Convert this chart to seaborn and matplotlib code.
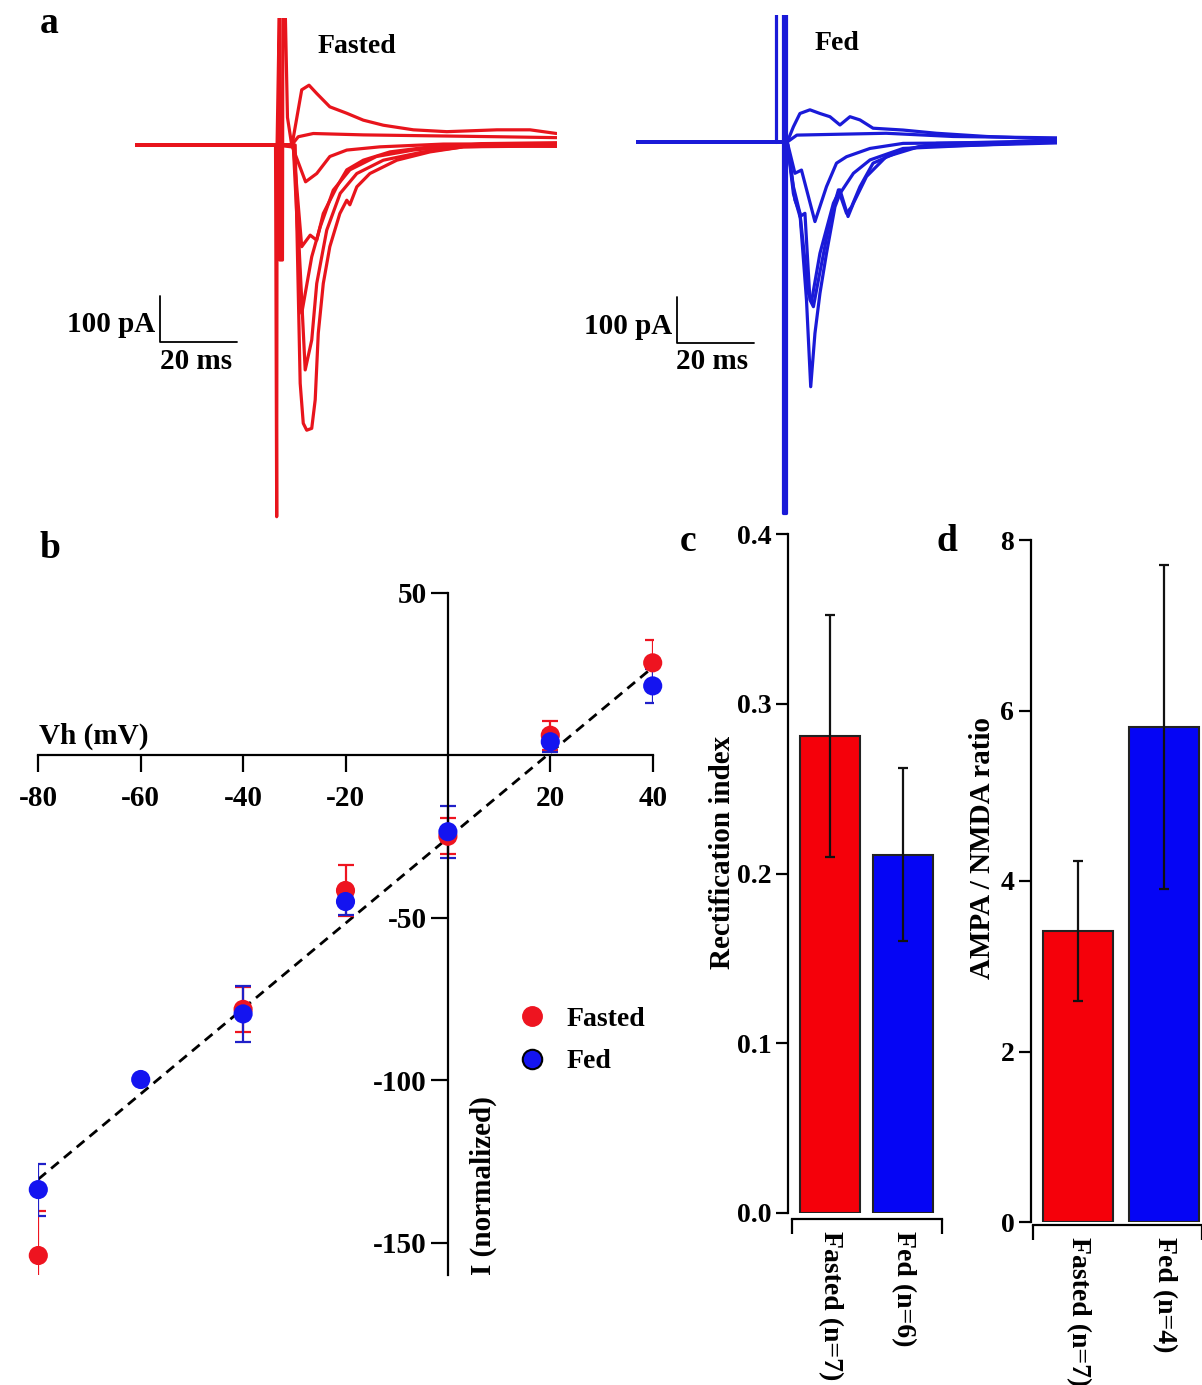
import matplotlib
matplotlib.use("Agg")
import matplotlib.pyplot as plt
from matplotlib.lines import Line2D
import pandas as pd
import seaborn as sns

# ------------------------------------------------------------------ data
# Panel a: recorded traces, time (ms) vs current (pA)
fa_art_t = [36.5, 36.8, 36.9, 37.5, 37.6, 38.3, 38.4, 39.0, 39.6, 40.7]
fa_art_i = [0, -808, 0, 300, -250, -250, 300, 300, 60, 0]
fa1_t = [0, 36.5, 40.7, 43.3, 45.2, 47.2, 50.6, 55.0, 59.3, 64.5, 72.3, 81.0, 94.0, 102.6, 109.5]
fa1_i = [0, 0, -4, 120, 130, 112, 83, 69, 54, 43, 33, 29, 33, 33, 25]
fa2_t = [0, 36.5, 40.7, 42.4, 46.3, 59.3, 76.6, 94.0, 109.5]
fa2_i = [0, 0, 0, 18, 25, 22, 20, 18, 16]
fa3_t = [0, 36.5, 40.7, 44.3, 47.2, 50.6, 55.0, 63.6, 80.0, 109.5]
fa3_i = [0, 0, 0, -80, -62, -25, -11, -4, 2, 3]
fa4_t = [0, 36.5, 41.1, 43.3, 45.5, 47.2, 48.9, 52.4, 55.0, 59.3, 66.2, 76.6, 90.0, 109.5]
fa4_i = [0, 0, 0, -221, -196, -207, -149, -91, -54, -33, -15, -4, -2, -3]
fa5_t = [0, 36.5, 41.1, 43.3, 45.9, 48.1, 51.5, 55.8, 62.7, 72.3, 90.0, 109.5]
fa5_i = [0, 0, 0, -366, -243, -178, -98, -54, -25, -11, 3, 5]
fa6_t = [0, 36.5, 41.3, 44.2, 45.9, 47.2, 49.8, 53.3, 57.6, 64.5, 74.9, 85.3, 109.5]
fa6_i = [0, 0, 0, -489, -424, -301, -185, -105, -62, -33, -15, -4, -2]
fa7_t = [0, 36.5, 41.6, 42.9, 43.7, 44.6, 45.9, 46.8, 47.6, 48.9, 50.6, 53.2, 55.0, 55.8,
         57.6, 61.0, 68.0, 76.6, 85.3, 109.5]
fa7_i = [0, 0, 0, -518, -605, -620, -616, -554, -409, -301, -221, -149, -120, -130,
         -91, -62, -33, -15, -4, 1]

fd_art_t = [36.5, 36.5, 38.3, 38.3, 39.0, 39.0]
fd_art_i = [0, 300, 300, -807, -807, 300]
fd1_t = [0, 36.5, 39.3, 40.9, 42.6, 45.2, 47.8, 50.4, 53.0, 55.6, 58.2, 61.6, 69.4, 78.1, 91.1, 109.4]
fd1_i = [0, 0, 0, 33, 62, 70, 62, 55, 37, 55, 48, 30, 26, 19, 12, 6]
fd2_t = [0, 36.5, 39.3, 41.8, 65.0, 82.4, 109.4]
fd2_i = [0, 0, 0, 15, 19, 12, 9]
fd3_t = [0, 36.5, 39.3, 41.3, 43.0, 46.5, 49.5, 52.1, 54.7, 60.8, 69.4, 109.4]
fd3_i = [0, 0, 0, -68, -61, -173, -97, -46, -32, -14, -3, 0]
fd4_t = [0, 36.5, 39.3, 40.9, 42.6, 43.9, 45.2, 46.1, 47.4, 50.4, 52.6, 54.7, 56.0, 58.2,
         61.6, 69.4, 78.1, 109.4]
fd4_i = [0, 0, 0, -112, -162, -155, -343, -358, -300, -170, -104, -155, -141, -97,
         -46, -17, -3, 3]
fd5_t = [0, 36.5, 39.3, 40.9, 42.6, 44.8, 45.6, 47.8, 51.3, 53.0, 55.1, 56.5, 59.9, 65.0, 73.6, 109.4]
fd5_i = [0, 0, 0, -97, -155, -329, -347, -242, -133, -104, -162, -133, -75, -32, -10, -2]
fd6_t = [0, 36.5, 39.3, 41.3, 42.6, 44.3, 45.4, 46.5, 47.8, 49.5, 51.7, 53.0, 56.5, 60.8, 69.4, 109.4]
fd6_i = [0, 0, 0, -126, -155, -343, -532, -416, -329, -242, -141, -112, -68, -39, -14, 1]

# Panel b: I-V relationship
iv_fasted_v = [-80, -40, -20, 0, 20, 40]
iv_fasted_i = [-154, -78.2, -41.6, -24.9, 6.2, 28.5]
iv_fasted_sem = [13.6, 7.0, 8.0, 5.6, 4.4, 7.0]
iv_fed_v = [-80, -60, -40, -20, 0, 20, 40]
iv_fed_i = [-133.7, -99.8, -79.6, -45.0, -23.5, 4.2, 21.4]
iv_fed_sem = [8.0, 0.0, 8.6, 4.0, 8.0, 3.3, 5.3]
fit_v = [-80, 40]
fit_i = [-130.5, 27.1]
iv_xticks = [-80, -60, -40, -20, 20, 40]
iv_yticks = [50, -50, -100, -150]

# Panel c: rectification index
c_cats = ["Fasted (n=7)", "Fed (n=6)"]
c_vals = [0.281, 0.211]
c_sem = [0.071, 0.051]
c_ticks = [0.0, 0.1, 0.2, 0.3, 0.4]

# Panel d: AMPA/NMDA ratio
d_cats = ["Fasted (n=7)", "Fed (n=4)"]
d_vals = [3.41, 5.81]
d_sem = [0.82, 1.90]
d_ticks = [0, 2, 4, 6, 8]

# ------------------------------------------------------------------ style
RED_TR = "#e8141c"
BLUE_TR = "#1a1ad8"
RED = "#f5000a"
BLUE = "#0505f5"
RED_PT = "#ee1420"
BLUE_PT = "#1414f0"

sns.set_theme(style="ticks")
plt.rcParams["font.family"] = ["Liberation Serif", "DejaVu Serif"]
plt.rcParams["font.weight"] = "bold"
plt.rcParams["axes.labelweight"] = "bold"
plt.rcParams["axes.linewidth"] = 1.5
for key in ("text.color", "axes.labelcolor", "xtick.color", "ytick.color", "axes.edgecolor"):
    plt.rcParams[key] = "black"

W, H = 1202, 1385
fig = plt.figure(figsize=(W / 100, H / 100), dpi=100)


def px_axes(l, t, r, b):
    return fig.add_axes([l / W, 1 - b / H, (r - l) / W, (b - t) / H])


def ptext(x, y, s, **kw):
    fig.text(x / W, 1 - y / H, s, **kw)


# ------------------------------------------------------------------ panel a
def trace_frame(traces):
    rows = []
    for k, (tt, ii) in enumerate(traces):
        for order, (a, b) in enumerate(zip(tt, ii)):
            rows.append({"trace": k, "order": order, "t": a, "i": b})
    return pd.DataFrame(rows)


fasted_traces = [(fa1_t, fa1_i), (fa2_t, fa2_i), (fa3_t, fa3_i), (fa4_t, fa4_i),
                 (fa5_t, fa5_i), (fa6_t, fa6_i), (fa7_t, fa7_i), (fa_art_t, fa_art_i)]
fed_traces = [(fd1_t, fd1_i), (fd2_t, fd2_i), (fd3_t, fd3_i), (fd4_t, fd4_i),
              (fd5_t, fd5_i), (fd6_t, fd6_i), (fd_art_t, fd_art_i)]

YLIM_A = (-815.2, 276.1)

ax_af = px_axes(135, 18, 557, 520)
sns.lineplot(data=trace_frame(fasted_traces), x="t", y="i", units="trace",
             estimator=None, sort=False, color=RED_TR, lw=2.3, ax=ax_af)
ax_af.set_xlim(0, 109.6)
ax_af.set_ylim(*YLIM_A)
ax_af.axis("off")
# scale bar (100 pA / 20 ms)
ax_af.plot([6.5, 6.5, 26.5], [-328, -428, -428], color="black", lw=1.3, clip_on=False)

ax_ad = px_axes(636, 15, 1057, 517)
sns.lineplot(data=trace_frame(fed_traces), x="t", y="i", units="trace",
             estimator=None, sort=False, color=BLUE_TR, lw=2.3, ax=ax_ad)
ax_ad.set_xlim(0, 109.4)
ax_ad.set_ylim(*YLIM_A)
ax_ad.axis("off")
ax_ad.plot([10.6, 10.6, 30.6], [-337, -437, -437], color="black", lw=1.3, clip_on=False)

ptext(40, 33, "a", fontsize=27, ha="left", va="baseline")
ptext(318, 53, "Fasted", fontsize=20, ha="left", va="baseline")
ptext(815, 50, "Fed", fontsize=20, ha="left", va="baseline")
ptext(155, 332, "100 pA", fontsize=21, ha="right", va="baseline")
ptext(160, 369, "20 ms", fontsize=21, ha="left", va="baseline")
ptext(672, 334, "100 pA", fontsize=21, ha="right", va="baseline")
ptext(676, 369, "20 ms", fontsize=21, ha="left", va="baseline")

# ------------------------------------------------------------------ panel b
ax_b = px_axes(38.3, 593, 652.7, 1275)
sns.lineplot(x=fit_v, y=fit_i, color="black", lw=2.0, linestyle=(0, (3.6, 2.4)),
             ax=ax_b, zorder=1)
ax_b.errorbar(iv_fasted_v, iv_fasted_i, yerr=iv_fasted_sem, fmt="none", ecolor=RED_PT,
              elinewidth=1.6, capsize=6, capthick=1.6, zorder=2)
ax_b.errorbar(iv_fed_v, iv_fed_i, yerr=iv_fed_sem, fmt="none", ecolor="#2020c8",
              elinewidth=1.6, capsize=6, capthick=1.6, zorder=2)
iv_df = pd.DataFrame({
    "v": iv_fasted_v + iv_fed_v,
    "i": iv_fasted_i + iv_fed_i,
    "group": ["Fasted"] * len(iv_fasted_v) + ["Fed"] * len(iv_fed_v),
})
sns.scatterplot(data=iv_df, x="v", y="i", hue="group",
                palette={"Fasted": RED_PT, "Fed": BLUE_PT}, s=190, linewidth=0,
                legend=False, ax=ax_b, zorder=3, clip_on=False)
ax_b.set_xlim(-80, 40)
ax_b.set_ylim(-160, 50)
ax_b.spines["left"].set_position(("data", 0))
ax_b.spines["bottom"].set_position(("data", 0))
ax_b.spines["top"].set_visible(False)
ax_b.spines["right"].set_visible(False)
for s in ("left", "bottom"):
    ax_b.spines[s].set_linewidth(1.6)
ax_b.set_xticks(iv_xticks)
ax_b.set_yticks(iv_yticks)
ax_b.set_xticklabels([str(v) for v in iv_xticks])
ax_b.set_yticklabels([str(v) for v in iv_yticks])
ax_b.tick_params(axis="both", direction="out", length=12, width=1.6, labelsize=21)
ax_b.tick_params(axis="x", pad=9)
ax_b.tick_params(axis="y", pad=3)
ax_b.set_xlabel("")
ax_b.set_ylabel("")

handles = [
    Line2D([], [], marker="o", linestyle="none", markersize=14, markerfacecolor=RED_PT,
           markeredgecolor=RED_PT, label="Fasted"),
    Line2D([], [], marker="o", linestyle="none", markersize=14, markerfacecolor=BLUE_PT,
           markeredgecolor="black", markeredgewidth=1.5, label="Fed"),
]
fig.legend(handles=handles, loc="center left", bbox_to_anchor=(518 / W, 1 - 1040.5 / H),
           frameon=False, fontsize=20, handlelength=1.0, handletextpad=0.75,
           labelspacing=0.6, borderpad=0, borderaxespad=0)

ptext(40, 558, "b", fontsize=27, ha="left", va="baseline")
ptext(39, 744, "Vh (mV)", fontsize=21, ha="left", va="baseline")
ptext(483, 1186, "I (normalized)", fontsize=21, rotation=90, ha="center", va="center")


# ------------------------------------------------------------------ panels c, d
def bar_panel(ax, cats, vals, sem, ticks, ticklabels, xlim, ylim, spine_bounds, outward):
    sns.barplot(x=cats, y=vals, hue=cats, palette=[RED, BLUE], width=0.81, saturation=1,
                edgecolor="#222222", linewidth=1.5, errorbar=None, legend=False, ax=ax)
    ax.errorbar([0, 1], vals, yerr=sem, fmt="none", ecolor="#111111", elinewidth=1.6,
                capsize=3.5, capthick=1.6, zorder=5)
    ax.set_xlim(*xlim)
    ax.set_ylim(*ylim)
    ax.spines["top"].set_visible(False)
    ax.spines["right"].set_visible(False)
    ax.spines["left"].set_linewidth(1.6)
    ax.spines["bottom"].set_linewidth(1.6)
    ax.spines["bottom"].set_position(("outward", outward))
    ax.spines["bottom"].set_bounds(*spine_bounds)
    ax.set_yticks(ticks)
    ax.set_yticklabels(ticklabels)
    ax.set_xticks([0, 1])
    ax.set_xticklabels(cats, rotation=-90, ha="center", va="top")
    ax.set_xticks(list(spine_bounds), minor=True)
    ax.tick_params(axis="x", which="major", length=0, pad=9, labelsize=20)
    ax.tick_params(axis="x", which="minor", length=11, width=1.6, direction="out")
    ax.tick_params(axis="y", length=9, width=1.6, direction="out", pad=3, labelsize=20)
    ax.set_xlabel("")
    ax.set_ylabel("")


ax_c = px_axes(788, 534, 950, 1213)
bar_panel(ax_c, c_cats, c_vals, c_sem, c_ticks, ["%.1f" % v for v in c_ticks],
          (-0.575, 1.644), (0, 0.4), (-0.52, 1.53), 4)
ax_d = px_axes(1031, 540, 1202, 1222)
bar_panel(ax_d, d_cats, d_vals, d_sem, d_ticks, [str(v) for v in d_ticks],
          (-0.547, 1.441), (0, 8), (-0.523, 1.441), 2)

ptext(680, 551, "c", fontsize=27, ha="left", va="baseline")
ptext(936, 551, "d", fontsize=27, ha="left", va="baseline")
ptext(722, 852, "Rectification index", fontsize=21, rotation=90, ha="center", va="center")
ptext(982, 848, "AMPA / NMDA ratio", fontsize=21, rotation=90, ha="center", va="center")

fig.savefig("out.png", dpi=100)
